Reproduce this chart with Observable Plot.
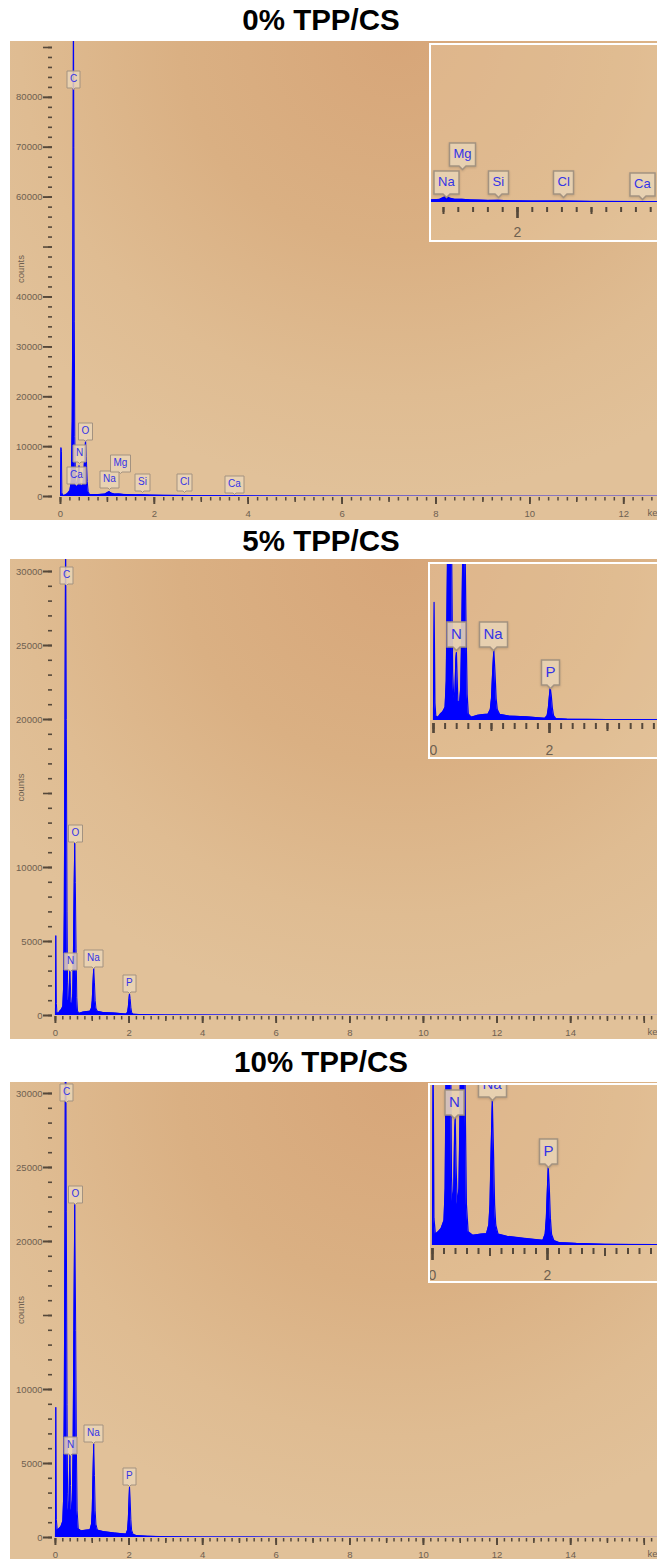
<!DOCTYPE html>
<html><head><meta charset="utf-8">
<script src="https://cdn.jsdelivr.net/npm/d3@7"></script>
<script src="https://cdn.jsdelivr.net/npm/@observablehq/plot@0.6"></script>
<style>
html,body{margin:0;padding:0;background:#fff;overflow:hidden;width:657px;height:1559px}
#root{position:relative;width:657px;height:1559px;overflow:hidden}
.title{position:absolute;left:0;width:642px;text-align:center;font:bold 29.5px "Liberation Sans",Arial,sans-serif;color:#000;line-height:32px}
.panel{position:absolute;left:10px}
.panel svg{display:block}
.inset{position:absolute;border:2px solid #fff;width:250px;overflow:hidden}
.inset svg{display:block;max-width:none}
g[aria-label="tip"] text, g[aria-label="tip"] tspan{fill:#3434e6}
</style></head>
<body><div id="root"></div>
<script>
// ---------------- DATA ----------------
const titles = ["0% TPP/CS", "5% TPP/CS", "10% TPP/CS"];

// 0% TPP/CS spectrum (keV, counts)
const keV0 = [0,0.01,0.02,0.03,0.05,0.10,0.15,0.20,0.23,0.25,0.26,0.27,0.277,0.285,0.295,0.305,0.32,0.34,0.36,0.38,0.395,0.41,0.43,0.46,0.48,0.50,0.52,0.535,0.55,0.57,0.59,0.62,0.80,0.95,1.00,1.04,1.08,1.15,1.25,1.35,1.60,1.74,1.90,2.20,2.62,3.00,3.69,4.50,6.00,9.00,12.80];
const counts0 = [0,9800,9000,800,200,300,600,1200,3000,15000,35000,70000,100000,70000,35000,12000,3500,2600,2800,4500,6200,3000,2000,2200,2500,5000,9000,11300,8000,3000,1000,400,380,500,800,1000,700,500,520,420,330,340,280,230,220,170,150,100,70,40,25];
const lblEl0 = ["C","O","N","Ca","Na","Mg","Si","Cl","Ca"];
const lblKeV0 = [0.28,0.54,0.40,0.34,1.04,1.28,1.74,2.64,3.70];
const lblCounts0 = [81500,11000,6600,2200,1400,4600,800,800,400];
const insEl0 = ["Na","Mg","Si","Cl","Ca"];
const insKeV0 = [1.04,1.26,1.74,2.62,3.69];
const insCounts0 = [800,5250,800,800,480];

// 5% TPP/CS spectrum
const keV5 = [0,0.01,0.025,0.04,0.08,0.12,0.16,0.20,0.22,0.24,0.26,0.277,0.295,0.315,0.33,0.35,0.37,0.385,0.395,0.405,0.42,0.45,0.47,0.49,0.51,0.525,0.54,0.56,0.58,0.60,0.65,0.75,0.85,0.94,0.98,1.00,1.02,1.04,1.06,1.08,1.10,1.14,1.30,1.60,1.92,1.96,1.98,2.00,2.013,2.03,2.05,2.07,2.11,2.30,3.00,4.00,6.00,10.0,16.5];
const counts5 = [0,5400,800,200,150,300,400,600,1800,7000,20000,34000,20000,7000,2200,1000,1300,2800,3100,2200,900,800,1500,4500,9000,11700,9000,4500,1200,300,150,230,270,290,500,1000,2200,3200,2200,1000,500,280,200,170,100,220,550,1150,1480,1150,550,220,90,60,40,30,20,12,5];
const lblEl5 = ["C","O","N","Na","P"];
const lblKeV5 = [0.30,0.54,0.41,1.04,2.01];
const lblCounts5 = [29050,11600,2970,3180,1490];
const insEl5 = ["N","Na","P"];
const insKeV5 = [0.40,1.04,2.01];
const insCounts5 = [3200,3200,1460];

// 10% TPP/CS spectrum
const keV10 = [0,0.01,0.025,0.05,0.10,0.15,0.20,0.22,0.24,0.26,0.277,0.295,0.315,0.33,0.35,0.37,0.385,0.395,0.41,0.43,0.46,0.48,0.50,0.525,0.55,0.57,0.59,0.62,0.70,0.85,0.94,0.98,1.00,1.02,1.04,1.06,1.08,1.10,1.14,1.30,1.60,1.92,1.96,1.98,2.00,2.013,2.03,2.05,2.07,2.11,2.20,2.50,3.00,4.00,6.00,10.0,16.5];
const counts10 = [0,8800,1200,500,600,750,1100,2500,9000,22000,40000,22000,9000,3000,1800,2500,5000,5600,3500,1800,2500,6000,14000,22500,14000,6000,1800,600,450,500,520,900,1800,4200,6350,4200,1800,900,500,400,310,230,500,1200,2600,3450,2600,1200,500,220,130,90,55,35,25,15,8];
const lblEl10 = ["C","O","N","Na","P"];
const lblKeV10 = [0.30,0.55,0.41,1.04,2.01];
const lblCounts10 = [29400,22500,5540,6350,3450];
const insEl10 = ["N","Na","P"];
const insKeV10 = [0.38,1.04,2.01];
const insCounts10 = [5570,6360,3420];

// ticks and tick labels
const xMajor1 = [0,2,4,6,8,10,12];
const xLabels1 = [0,2,4,6,8,10,12];
const xMajor2 = [0,2,4,6,8,10,12,14,16];
const xLabels2 = [0,2,4,6,8,10,12,14];
const yMajor1 = [0,10000,20000,30000,40000,50000,60000,70000,80000,90000];
const yLabels1 = [0,10000,20000,30000,40000,60000,70000,80000];
const yMajor2 = [0,5000,10000,15000,20000,25000,30000];
const yLabels2 = [0,5000,10000,20000,25000,30000];
const inset1XLabels = [2];
const insetXLabels = [0,2];
const insetXMajor = [0,2,4];
const xUnit = "keV";
const yTitle = "counts";

// ---------------- STYLE ----------------
const FONT = '"Liberation Sans", Arial, sans-serif';
const BLUE = "#0000ff";
const TICK = "#55483a";
const LBL = "#6e6050";
const BG = "radial-gradient(ellipse 75% 95% at 60% 0%, #d7a679 0%, #dab083 45%, #dfbc92 78%, #e1c199 100%)";
const TIPFILL = "#ead5b6", TIPSTROKE = "#a39280";

const root = document.getElementById("root");

function addTitle(text, top) {
  const d = document.createElement("div");
  d.className = "title"; d.style.top = top + "px"; d.textContent = text;
  root.appendChild(d);
}

function rows(xs, ys) { return xs.map((e, i) => ({e, c: ys[i]})); }
function labs(el, xs, ys) { return el.map((t, i) => ({t, e: xs[i], c: ys[i]})); }

function mainPanel(cfg) {
  const data = rows(cfg.keV, cfg.counts);
  const lab = labs(cfg.lblEl, cfg.lblKeV, cfg.lblCounts);
  const xMax = cfg.xDomain[1];
  const xMinor = d3.range(0, Math.floor(xMax * 5) + 1).map(i => i / 5);
  const xMed = d3.range(0, Math.floor(xMax) + 1);
  const yMinor = d3.range(0, cfg.yDomain[1], cfg.yMinorStep);
  const plot = Plot.plot({
    width: 647, height: cfg.height,
    marginLeft: 42, marginRight: 0, marginTop: 0, marginBottom: cfg.marginBottom,
    x: {domain: cfg.xDomain}, y: {domain: cfg.yDomain},
    style: {background: BG, fontFamily: FONT, overflow: "hidden"},
    marks: [
      Plot.areaY(data, {x: "e", y: "c", fill: BLUE, curve: "linear", clip: true}),
      Plot.lineY(data, {x: "e", y: "c", stroke: BLUE, strokeWidth: 1, clip: true}),
      Plot.axisY({ticks: yMinor, tickSize: 4, text: null, stroke: TICK, strokeWidth: 1.6, label: null}),
      Plot.axisY({ticks: cfg.yMajor, tickSize: 9, text: null, stroke: TICK, strokeWidth: 1.6, label: null}),
      Plot.axisY({ticks: cfg.yLabels, tickSize: 9, tickPadding: 1, stroke: TICK, strokeWidth: 1.6, fill: LBL, fontSize: 9.5,
        tickFormat: d => String(d),
        label: yTitle, labelAnchor: "center", labelOffset: 35, labelArrow: "none"}),
      Plot.axisX({ticks: xMinor, tickSize: 3.5, dy: 1, text: null, stroke: TICK, strokeWidth: 1.5, label: null}),
      Plot.axisX({ticks: xMed, tickSize: 5, dy: 1, text: null, stroke: TICK, strokeWidth: 1.5, label: null}),
      Plot.axisX({ticks: cfg.xMajor, tickSize: 7, dy: 1, text: null, stroke: TICK, strokeWidth: 1.6, label: null}),
      Plot.axisX({ticks: cfg.xLabels, tickSize: 7, dy: 1, tickPadding: 6, stroke: TICK, strokeWidth: 1.6, fill: LBL, fontSize: 9.5,
        tickFormat: d => String(d), label: null}),
      Plot.text([xUnit], {text: d => d, frameAnchor: "bottom-right", textAnchor: "start", dx: -10, dy: 19, fill: LBL, fontSize: 9.5}),
      Plot.tip(lab, {x: "e", y: "c", title: "t", anchor: "bottom", fill: TIPFILL, fillOpacity: 0.85, stroke: TIPSTROKE,
        strokeWidth: 1, fontSize: 10, textPadding: 3, pointerSize: 3, pathFilter: "none", fontFamily: FONT})
    ]
  });
  const div = document.createElement("div");
  div.className = "panel"; div.style.top = cfg.top + "px";
  div.appendChild(plot);
  root.appendChild(div);
}

function insetPanel(cfg) {
  const data = rows(cfg.keV, cfg.counts);
  const lab = labs(cfg.lblEl, cfg.lblKeV, cfg.lblCounts);
  const xMinor = d3.range(0, 22).map(i => i / 5);
  const xMed = [1, 3];
  const plot = Plot.plot({
    width: 250, height: cfg.height,
    marginLeft: 0, marginRight: 0, marginTop: 0, marginBottom: cfg.marginBottom,
    x: {domain: cfg.xDomain}, y: {domain: cfg.yDomain, axis: null},
    style: {background: "rgba(238,214,180,0.3)", fontFamily: FONT, overflow: "hidden"},
    marks: [
      Plot.areaY(data, {x: "e", y: "c", fill: BLUE, curve: "linear", clip: true}),
      Plot.lineY(data, {x: "e", y: "c", stroke: BLUE, strokeWidth: 1.2, clip: true}),
      Plot.axisX({ticks: xMinor, tickSize: cfg.tMinor, dy: cfg.tdy, text: null, stroke: TICK, strokeWidth: 2, label: null}),
      Plot.axisX({ticks: xMed, tickSize: cfg.tMed, dy: cfg.tdy, text: null, stroke: TICK, strokeWidth: 2, label: null}),
      Plot.axisX({ticks: insetXMajor, tickSize: cfg.tMajor, dy: cfg.tdy, text: null, stroke: TICK, strokeWidth: 2.2, label: null}),
      Plot.axisX({ticks: cfg.xLabels, tickSize: cfg.tMajor, dy: cfg.tdy, tickPadding: cfg.tPad, stroke: TICK, strokeWidth: 2.2,
        fill: LBL, fontSize: 14, tickFormat: d => String(d), label: null}),
      Plot.tip(lab, {x: "e", y: "c", title: "t", anchor: "bottom", fill: TIPFILL, fillOpacity: 0.9, stroke: TIPSTROKE,
        strokeWidth: 1.5, fontSize: cfg.fontSize, textPadding: 4, pointerSize: 7, pathFilter: "drop-shadow(0 1px 1px rgba(0,0,0,0.15))", fontFamily: FONT})
    ]
  });
  const div = document.createElement("div");
  div.className = "inset";
  div.style.left = cfg.left + "px"; div.style.top = cfg.top + "px"; div.style.height = cfg.height + "px";
  div.appendChild(plot);
  root.appendChild(div);
}

// titles
addTitle(titles[0], 4);
addTitle(titles[1], 525);
addTitle(titles[2], 1046);

// panel 1 (inset x scale: 74 px per keV, 250 px wide)
mainPanel({top: 41, height: 479, marginBottom: 24, xDomain: [-0.17, 12.72], yDomain: [0, 91200], yMinorStep: 2000,
  keV: keV0, counts: counts0, lblEl: lblEl0, lblKeV: lblKeV0, lblCounts: lblCounts0,
  xMajor: xMajor1, xLabels: xLabels1, yMajor: yMajor1, yLabels: yLabels1});
insetPanel({left: 429, top: 43, height: 195, marginBottom: 38, xDomain: [0.838, 4.216], yDomain: [0, 25000],
  keV: keV0, counts: counts0, lblEl: insEl0, lblKeV: insKeV0, lblCounts: insCounts0, xLabels: inset1XLabels,
  tMinor: 5, tMed: 7, tMajor: 11, tdy: 5, tPad: 9, fontSize: 13});

// panel 2 (inset: 58 px per keV)
mainPanel({top: 559, height: 480, marginBottom: 24, xDomain: [-0.08, 16.36], yDomain: [0, 30811], yMinorStep: 1000,
  keV: keV5, counts: counts5, lblEl: lblEl5, lblKeV: lblKeV5, lblCounts: lblCounts5,
  xMajor: xMajor2, xLabels: xLabels2, yMajor: yMajor2, yLabels: yLabels2});
insetPanel({left: 428, top: 562, height: 193, marginBottom: 37, xDomain: [-0.0517, 4.259], yDomain: [0, 7123],
  keV: keV5, counts: counts5, lblEl: insEl5, lblKeV: insKeV5, lblCounts: insCounts5, xLabels: insetXLabels,
  tMinor: 6, tMed: 8, tMajor: 10, tdy: 3, tPad: 12, fontSize: 15});

// panel 3 (inset: 57.5 px per keV)
mainPanel({top: 1082, height: 477, marginBottom: 22, xDomain: [-0.08, 16.36], yDomain: [0, 30743], yMinorStep: 1000,
  keV: keV10, counts: counts10, lblEl: lblEl10, lblKeV: lblKeV10, lblCounts: lblCounts10,
  xMajor: xMajor2, xLabels: xLabels2, yMajor: yMajor2, yLabels: yLabels2});
insetPanel({left: 428, top: 1083, height: 196, marginBottom: 36, xDomain: [-0.0348, 4.313], yDomain: [0, 7018],
  keV: keV10, counts: counts10, lblEl: insEl10, lblKeV: insKeV10, lblCounts: insCounts10, xLabels: insetXLabels,
  tMinor: 6, tMed: 8, tMajor: 12, tdy: 3, tPad: 10, fontSize: 15});
</script>
</body></html>
